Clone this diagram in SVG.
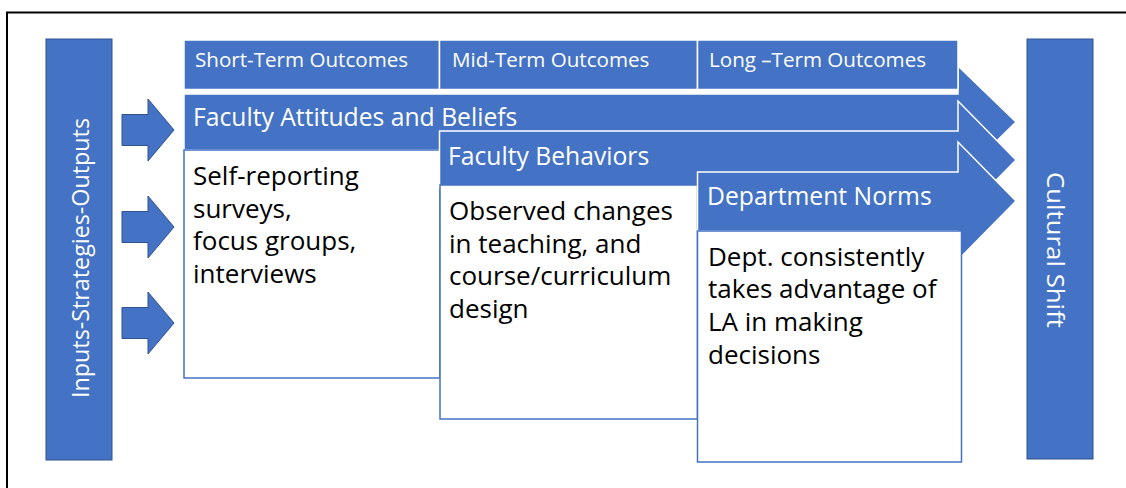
<svg xmlns="http://www.w3.org/2000/svg" width="1126" height="488" viewBox="0 0 1126 488">
  <style>
    .bar { fill: #4472C4; stroke: #2F528F; stroke-width: 1; }
    .flow { fill: #4472C4; stroke: #FFFFFF; stroke-width: 1.5; }
    .hdr { fill: #4472C4; stroke: #FFFFFF; stroke-width: 1.5; }
    .box { fill: #FFFFFF; stroke: #4472C4; stroke-width: 1.5; }
    .wt { fill: #FFFFFF; font-family: "Open Sans", "Noto Sans", sans-serif; }
    .bt { fill: #000000; font-family: "Open Sans", "Noto Sans", sans-serif; font-size: 26px; }
    .h { font-size: 20.6px; }
    .t { font-size: 24.7px; }
    .v { font-size: 23px; }
  </style>
  <rect x="7" y="12.5" width="1130" height="490" fill="#FFFFFF" stroke="#000000" stroke-width="2"/>

  <g id="inputs">
    <rect class="bar" x="46" y="39" width="66" height="421"/>
    <text class="wt v" transform="translate(89,398) rotate(-90)" textLength="280" lengthAdjust="spacingAndGlyphs">Inputs-Strategies-Outputs</text>
  </g>

  <g id="cultural-shift">
    <rect class="bar" x="1027" y="39" width="66" height="420"/>
    <text class="wt v" transform="translate(1047,172) rotate(90)" textLength="156" lengthAdjust="spacingAndGlyphs">Cultural Shift</text>
  </g>

  <g id="connectors">
    <polygon class="bar" points="122,114.5 148,114.5 148,99 174,130 148,161 148,145.5 122,145.5"/>
    <polygon class="bar" points="122,211.5 148,211.5 148,196 174,227 148,258 148,242.5 122,242.5"/>
    <polygon class="bar" points="122,307.5 148,307.5 148,292 174,323 148,354 148,338.5 122,338.5"/>
  </g>

  <g id="faculty-attitudes">
    <polygon class="flow" points="184,94 958,94 958,66 1016,122 958,179 958,150 184,150"/>
    <text class="wt t" x="193" y="126">Faculty Attitudes and Beliefs</text>
  </g>

  <g id="header">
    <rect class="hdr" x="184" y="40" width="255.5" height="49.5"/>
    <rect class="hdr" x="439.5" y="40" width="258" height="49.5"/>
    <rect class="hdr" x="697.5" y="40" width="260.5" height="49.5"/>
    <text class="wt h" x="195" y="67">Short-Term Outcomes</text>
    <text class="wt h" x="452" y="67">Mid-Term Outcomes</text>
    <text class="wt h" x="709" y="67">Long –Term Outcomes</text>
  </g>

  <g id="attitudes-evidence">
    <rect class="box" x="184" y="150" width="256" height="228"/>
    <text class="bt" x="193" y="185">Self-reporting</text>
    <text class="bt" x="193" y="217.5">surveys,</text>
    <text class="bt" x="193" y="250">focus groups,</text>
    <text class="bt" x="193" y="282.5">interviews</text>
  </g>

  <g id="faculty-behaviors">
    <polygon class="flow" points="439.5,131 958,131 958,101 1016,160 958,219 958,188 439.5,188"/>
    <text class="wt t" x="448" y="165">Faculty Behaviors</text>
  </g>

  <g id="behaviors-evidence">
    <rect class="box" x="440" y="185" width="257.5" height="234"/>
    <text class="bt" x="449" y="220">Observed changes</text>
    <text class="bt" x="449" y="252.5">in teaching, and</text>
    <text class="bt" x="449" y="285">course/curriculum</text>
    <text class="bt" x="449" y="317.5">design</text>
  </g>

  <g id="department-norms">
    <polygon class="flow" points="697.5,172 958,172 958,142 1016,201 958,260 958,231 697.5,231"/>
    <text class="wt t" x="707" y="205">Department Norms</text>
  </g>

  <g id="norms-evidence">
    <rect class="box" x="697.5" y="231" width="264" height="231"/>
    <text class="bt" x="708" y="265.5">Dept. consistently</text>
    <text class="bt" x="708" y="298">takes advantage of</text>
    <text class="bt" x="708" y="331">LA in making</text>
    <text class="bt" x="708" y="363.5">decisions</text>
  </g>
</svg>
